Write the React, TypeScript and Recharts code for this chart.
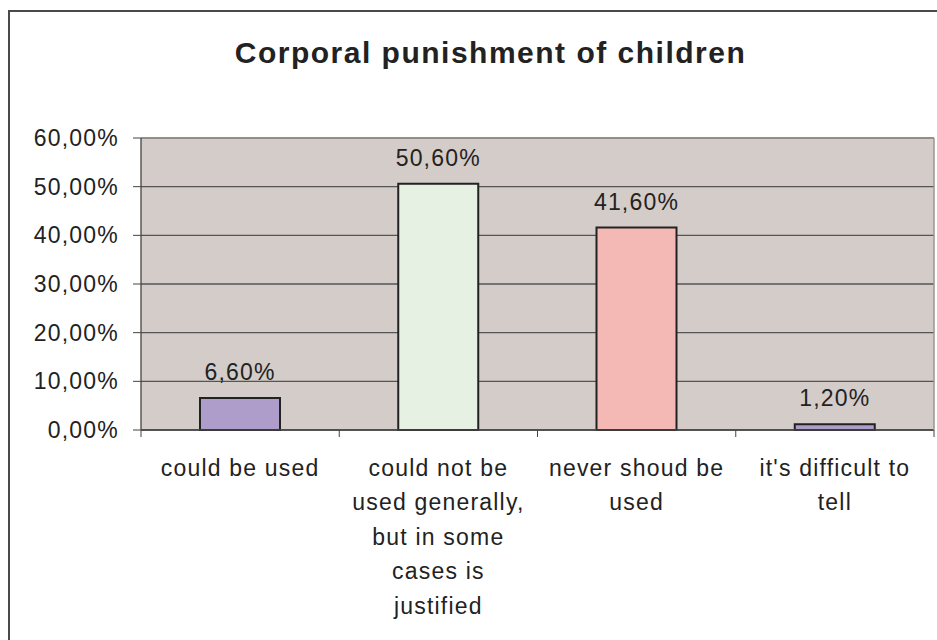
import { BarChart, Bar, XAxis, YAxis, CartesianGrid, Cell, LabelList, ReferenceLine } from "recharts";

const categories = [
  "could be used",
  "could not be used generally, but in some cases is justified",
  "never shoud be used",
  "it's difficult to tell",
];
const categoryLines = [
  ["could be used"],
  ["could not be", "used generally,", "but in some", "cases is", "justified"],
  ["never shoud be", "used"],
  ["it's difficult to", "tell"],
];
const shares = [0.066, 0.506, 0.416, 0.012];
const barColors = ["#AE9DCB", "#E6F1E4", "#F4B9B5", "#AE9DCB"];
const yTicks = [0, 0.1, 0.2, 0.3, 0.4, 0.5, 0.6];

const data = categories.map((name, i) => ({ name, value: shares[i] }));

const FONT = '"Liberation Sans", Arial, sans-serif';
const TEXT = "#222";
const pct = (v: number) => (v * 100).toFixed(2).replace(".", ",") + "%";

function CategoryTick(props: any) {
  const { x, y, payload, index } = props;
  const half = payload?.offset ?? 99;
  const lines = categoryLines[index] ?? [String(payload.value)];
  return (
    <g>
      <line x1={x - half} x2={x - half} y1={y} y2={y + 7} stroke="#444" />
      {index === categories.length - 1 && <line x1={x + half} x2={x + half} y1={y} y2={y + 7} stroke="#444" />}
      <text x={x} y={y + 46} textAnchor="middle" fill={TEXT} fontSize={23} letterSpacing={1.2} fontFamily={FONT}>
        {lines.map((l, i) => (
          <tspan key={i} x={x} dy={i === 0 ? 0 : 34.4}>{l}</tspan>
        ))}
      </text>
    </g>
  );
}

export default function App() {
  return (
    <div style={{ position: "fixed", left: 0, top: 0, width: 937, height: 640, overflow: "hidden", background: "#fff" }}>
      <div style={{ position: "absolute", left: 8, top: 10, width: 1000, height: 1000, border: "2px solid #4a4a4a" }} />
      <div
        style={{
          position: "absolute", left: 0, top: 38, width: 981, textAlign: "center",
          fontFamily: FONT, fontWeight: "bold", fontSize: 30, lineHeight: "30px",
          letterSpacing: 1.5, color: TEXT,
        }}
      >
        Corporal punishment of children
      </div>
      <div style={{ position: "absolute", left: 0, top: 0 }}>
        <BarChart width={937} height={640} data={data} margin={{ top: 138, right: 0, bottom: 180, left: 0 }}>
          <CartesianGrid vertical={false} stroke="#555" strokeWidth={1.3} fill="#D4CCC9" fillOpacity={1} />
          <XAxis
            dataKey="name"
            interval={0}
            tickSize={0}
            tickMargin={0}
            tickLine={false}
            axisLine={{ stroke: "#444", strokeWidth: 1.3 }}
            tick={<CategoryTick />}
          />
          <YAxis
            domain={[0, 0.6]}
            ticks={yTicks}
            width={141}
            tickSize={8}
            tickMargin={14}
            tickFormatter={pct}
            axisLine={{ stroke: "#444", strokeWidth: 1.3 }}
            tickLine={{ stroke: "#444" }}
            tick={{ fill: TEXT, fontSize: 23, fontFamily: FONT, letterSpacing: 1.2 }}
          />
          <YAxis
            yAxisId="r"
            orientation="right"
            domain={[0, 0.6]}
            width={3}
            tick={false}
            tickLine={false}
            axisLine={{ stroke: "#9c9490", strokeWidth: 1.5 }}
          />
          <ReferenceLine y={0.6} stroke="#9c9490" strokeWidth={1.5} />
          <Bar dataKey="value" barSize={80} stroke="#222" strokeWidth={2} isAnimationActive={false}>
            {data.map((_, i) => (
              <Cell key={i} fill={barColors[i]} />
            ))}
            <LabelList
              dataKey="value"
              position="top"
              offset={18}
              formatter={(v: any) => pct(Number(v))}
              fill={TEXT}
              fontSize={23}
              fontFamily={FONT}
              letterSpacing={1.2}
            />
          </Bar>
        </BarChart>
      </div>
    </div>
  );
}
